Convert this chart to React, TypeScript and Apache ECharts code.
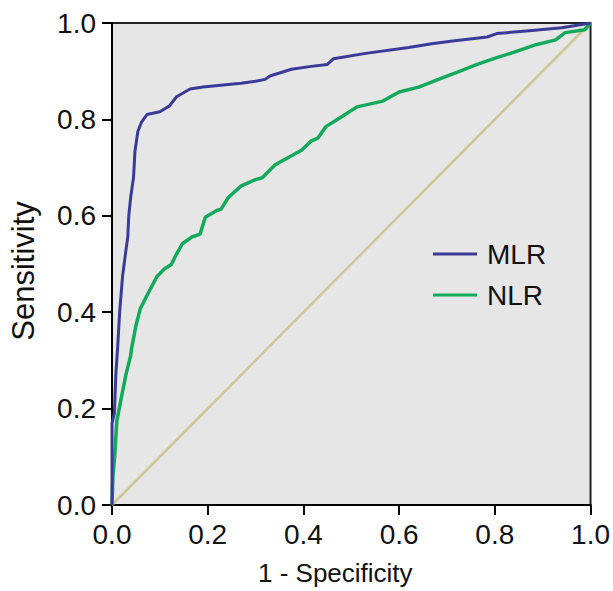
import React, { useEffect, useRef } from "react";
import * as echarts from "echarts";

const seriesNames = ["MLR", "NLR"];
const xTicks = [0, 0.2, 0.4, 0.6, 0.8, 1.0];

const mlrFpr = [0, 0, 0.005, 0.008, 0.012, 0.016, 0.022, 0.028, 0.033, 0.035, 0.039, 0.045, 0.048, 0.054, 0.062, 0.073, 0.1, 0.12, 0.135, 0.163, 0.19, 0.227, 0.27, 0.3, 0.32, 0.33, 0.375, 0.416, 0.45, 0.463, 0.53, 0.62, 0.668, 0.716, 0.784, 0.804, 0.872, 0.94, 0.988, 1];
const mlrTpr = [0, 0.17, 0.19, 0.27, 0.33, 0.4, 0.474, 0.52, 0.556, 0.6, 0.638, 0.68, 0.734, 0.775, 0.795, 0.81, 0.816, 0.828, 0.847, 0.863, 0.867, 0.871, 0.875, 0.879, 0.883, 0.89, 0.904, 0.91, 0.914, 0.926, 0.937, 0.949, 0.957, 0.963, 0.971, 0.978, 0.984, 0.99, 0.998, 1];

const nlrFpr = [0, 0.002, 0.006, 0.01, 0.018, 0.025, 0.029, 0.039, 0.041, 0.05, 0.059, 0.08, 0.094, 0.11, 0.124, 0.134, 0.147, 0.167, 0.184, 0.195, 0.219, 0.228, 0.243, 0.27, 0.3, 0.314, 0.341, 0.396, 0.416, 0.43, 0.447, 0.484, 0.512, 0.566, 0.6, 0.641, 0.682, 0.722, 0.763, 0.804, 0.839, 0.886, 0.927, 0.947, 0.988, 1];
const nlrTpr = [0, 0.06, 0.106, 0.174, 0.215, 0.25, 0.27, 0.31, 0.325, 0.372, 0.407, 0.448, 0.474, 0.49, 0.499, 0.519, 0.542, 0.556, 0.562, 0.597, 0.611, 0.614, 0.638, 0.662, 0.675, 0.679, 0.706, 0.736, 0.755, 0.761, 0.785, 0.808, 0.826, 0.838, 0.857, 0.867, 0.883, 0.898, 0.914, 0.928, 0.939, 0.955, 0.965, 0.98, 0.986, 1];

const refFpr = [0, 1];
const refTpr = [0, 1];

const zip = (a: number[], b: number[]) => a.map((v, i) => [v, b[i]]);

const FONT = "Liberation Sans, Arial, sans-serif";

export default function App() {
  const ref = useRef<HTMLDivElement>(null);
  useEffect(() => {
    if (!ref.current) return;
    const chart = echarts.init(ref.current, undefined, { renderer: "svg" });
    const axisCommon = {
      type: "value" as const,
      min: 0,
      max: 1,
      interval: 0.2,
      axisLine: { show: true, onZero: false, lineStyle: { color: "#000", width: 2 } },
      axisTick: { show: true, inside: false, length: 10, lineStyle: { color: "#000", width: 2 } },
      splitLine: { show: false },
      axisLabel: {
        color: "#111",
        fontSize: 28,
        fontFamily: FONT,
        formatter: (v: number) => v.toFixed(1),
      },
    };
    chart.setOption({
      animation: false,
      backgroundColor: "#fff",
      grid: {
        left: 106,
        right: 17,
        top: 23,
        bottom: 79,
        show: true,
        backgroundColor: "#e6e6e6",
        borderColor: "#222",
        borderWidth: 2,
      },
      xAxis: {
        ...axisCommon,
        name: "1 - Specificity",
        nameLocation: "middle",
        nameGap: 55,
        nameTextStyle: { color: "#111", fontSize: 26, fontFamily: FONT, padding: [0, 32, 0, 0] },
        axisLabel: { ...axisCommon.axisLabel, margin: 15 },
        customValues: xTicks,
      },
      yAxis: {
        ...axisCommon,
        name: "Sensitivity",
        nameLocation: "middle",
        nameGap: 73,
        nameTextStyle: { color: "#111", fontSize: 31, fontFamily: FONT, padding: [0, 14, 0, 0] },
        axisLabel: { ...axisCommon.axisLabel, margin: 16 },
      },
      legend: {
        data: seriesNames,
        orient: "vertical",
        left: 433,
        top: 240,
        padding: 0,
        itemWidth: 44,
        itemHeight: 3,
        itemGap: 13,
        icon: "rect",
        textStyle: { color: "#111", fontSize: 28, fontFamily: FONT, padding: [0, 0, 0, 5] },
      },
      series: [
        {
          type: "line",
          name: "Reference",
          data: zip(refFpr, refTpr),
          showSymbol: false,
          lineStyle: { color: "#cdc898", width: 2.5 },
          itemStyle: { color: "#cdc898" },
          z: 1,
        },
        {
          type: "line",
          name: "NLR",
          data: zip(nlrFpr, nlrTpr),
          showSymbol: false,
          lineStyle: { color: "#14a95b", width: 3.5 },
          itemStyle: { color: "#14a95b" },
          z: 2,
        },
        {
          type: "line",
          name: "MLR",
          data: zip(mlrFpr, mlrTpr),
          showSymbol: false,
          lineStyle: { color: "#3a3a98", width: 3 },
          itemStyle: { color: "#3a3a98" },
          z: 3,
        },
      ],
    });
    return () => chart.dispose();
  }, []);
  return <div ref={ref} style={{ width: 613, height: 591, position: "absolute", left: 0, top: 0 }} />;
}
